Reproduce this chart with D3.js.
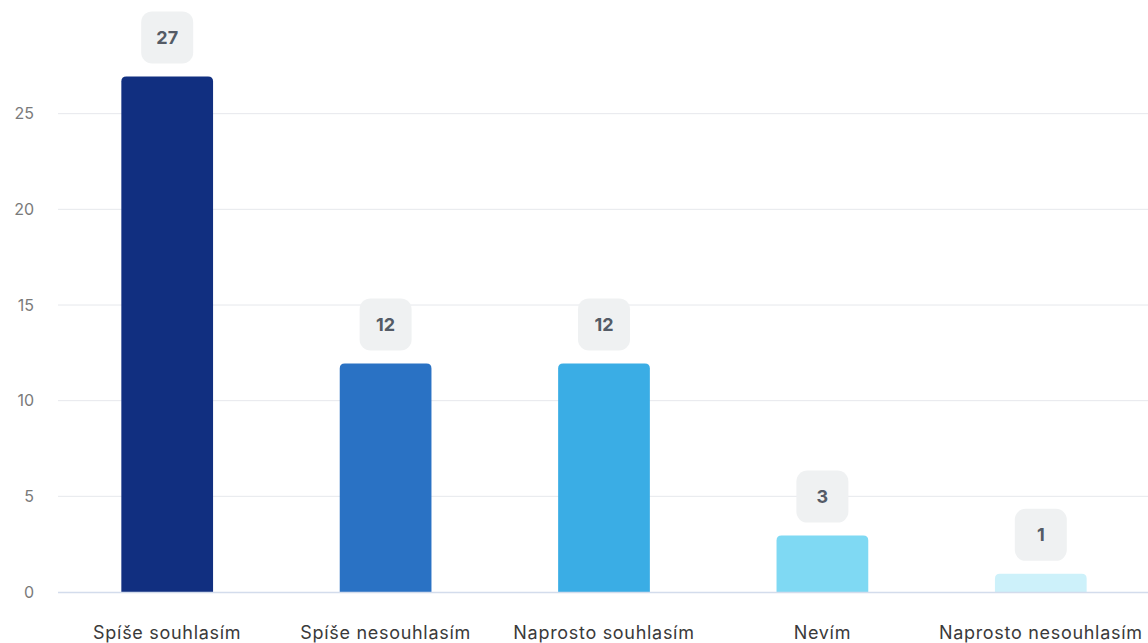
<!DOCTYPE html>
<html>
<head>
<meta charset="utf-8">
<script src="https://cdn.jsdelivr.net/npm/d3@7"></script>
<style>
  body { margin: 0; background: #fff; }
  svg { display: block; font-family: Inter, "Noto Sans", sans-serif; }
</style>
</head>
<body>
<script>
// data
var categories = ["Spíše souhlasím", "Spíše nesouhlasím", "Naprosto souhlasím", "Nevím", "Naprosto nesouhlasím"];
var values = [27, 12, 12, 3, 1];
var barColors = ["#112f80", "#2a72c4", "#3aade5", "#7fd9f3", "#cdf1fa"];
var yTicks = [0, 5, 10, 15, 20, 25];

var width = 1148, height = 643;
var margin = {top: 18, right: -2, bottom: 51, left: 58};

var svg = d3.select("body").append("svg")
    .attr("width", width)
    .attr("height", height);

var x = d3.scaleBand()
    .domain(categories)
    .range([margin.left, width - margin.right])
    .paddingInner(0.58)
    .paddingOuter(0.29);

var y = d3.scaleLinear()
    .domain([0, 30])
    .range([height - margin.bottom, margin.top]);

// gridlines
svg.append("g")
  .selectAll("line")
  .data(yTicks.filter(function(d) { return d > 0; }))
  .enter().append("line")
    .attr("x1", margin.left)
    .attr("x2", width)
    .attr("y1", function(d) { return y(d); })
    .attr("y2", function(d) { return y(d); })
    .attr("stroke", "#e6e8ec")
    .attr("stroke-width", 1);

// y axis labels
var yAxis = svg.append("g")
    .attr("transform", "translate(" + 34 + ",0)")
    .call(d3.axisLeft(y).tickValues(yTicks).tickSize(0).tickPadding(0));
yAxis.select(".domain").remove();
yAxis.selectAll("text")
    .attr("font-family", "Inter, sans-serif")
    .attr("font-size", 16)
    .attr("fill", "#7a7a7a");

// bars with rounded top corners
function barPath(x0, y0, w, h, r) {
  r = Math.min(r, h);
  return "M" + x0 + "," + (y0 + h) +
    "V" + (y0 + r) +
    "Q" + x0 + "," + y0 + " " + (x0 + r) + "," + y0 +
    "H" + (x0 + w - r) +
    "Q" + (x0 + w) + "," + y0 + " " + (x0 + w) + "," + (y0 + r) +
    "V" + (y0 + h) + "Z";
}

svg.append("g")
  .selectAll("path")
  .data(values)
  .enter().append("path")
    .attr("d", function(d, i) {
      var top = y(d) + 1;
      return barPath(x(categories[i]), top, x.bandwidth(), y(0) - top, 5);
    })
    .attr("fill", function(d, i) { return barColors[i]; });

// baseline
svg.append("line")
    .attr("x1", margin.left)
    .attr("x2", width)
    .attr("y1", y(0) + 0.5)
    .attr("y2", y(0) + 0.5)
    .attr("stroke", "#d3dcec")
    .attr("stroke-width", 1.5);

// value labels
var labels = svg.append("g")
  .selectAll("g")
  .data(values)
  .enter().append("g")
    .attr("transform", function(d, i) {
      return "translate(" + (x(categories[i]) + x.bandwidth() / 2) + "," + (y(d) - 38) + ")";
    });

labels.append("rect")
    .attr("x", -26)
    .attr("y", -26)
    .attr("width", 52)
    .attr("height", 52)
    .attr("rx", 11)
    .attr("fill", "#eff1f2");

labels.append("text")
    .attr("text-anchor", "middle")
    .attr("dy", "0.36em")
    .attr("font-size", 18)
    .attr("font-weight", 700)
    .attr("fill", "#545b66")
    .text(function(d) { return d; });

// x axis labels
var xAxis = svg.append("g")
    .attr("transform", "translate(0," + y(0) + ")")
    .call(d3.axisBottom(x).tickSize(0).tickPadding(34));
xAxis.select(".domain").remove();
xAxis.selectAll("text")
    .attr("font-family", "Inter, sans-serif")
    .attr("font-size", 18)
    .attr("letter-spacing", "0.7px")
    .attr("fill", "#3a3a3a");
</script>
</body>
</html>
